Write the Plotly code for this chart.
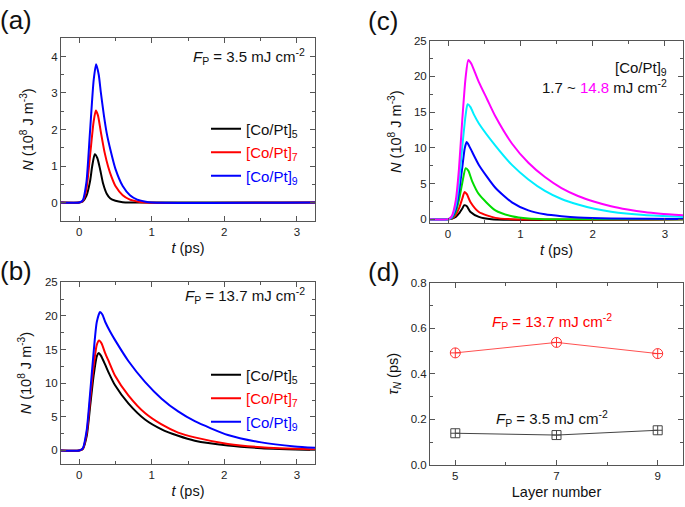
import plotly.graph_objects as go

# ---------------- data ----------------
# Panel (a): F_P = 3.5 mJ cm^-2
a_k_t = [-0.25, 0.0, 0.05, 0.1, 0.15, 0.18, 0.215, 0.25, 0.29, 0.33, 0.38, 0.43, 0.5, 0.6, 0.7, 3.25]
a_k_N = [0, 0, 0.03, 0.18, 0.58, 1.0, 1.32, 1.22, 0.9, 0.52, 0.24, 0.11, 0.05, 0.01, 0, 0]
a_r_t = [-0.25, 0.0, 0.05, 0.1, 0.15, 0.2, 0.23, 0.26, 0.3, 0.35, 0.4, 0.45, 0.5, 0.6, 0.7, 0.8, 0.9, 3.25]
a_r_N = [0, 0, 0.04, 0.36, 1.28, 2.22, 2.52, 2.38, 1.92, 1.38, 0.98, 0.68, 0.45, 0.2, 0.08, 0.03, 0, 0]
a_b_t = [-0.25, 0.0, 0.05, 0.1, 0.15, 0.2, 0.234, 0.27, 0.3, 0.34, 0.38, 0.43, 0.5, 0.6, 0.7, 0.8, 0.9, 1.0, 3.25]
a_b_N = [0, 0, 0.06, 0.55, 1.95, 3.35, 3.79, 3.5, 3.0, 2.4, 1.9, 1.45, 0.92, 0.45, 0.2, 0.08, 0.03, 0.0, 0]

# Panel (b): F_P = 13.7 mJ cm^-2
b_k_t = [-0.25, 0.0, 0.05, 0.105, 0.151, 0.197, 0.243, 0.27, 0.3, 0.357, 0.41, 0.495, 0.678, 0.907, 1.136, 1.364, 1.593, 2.05, 2.51, 3.25]
b_k_N = [0, 0, 0.2, 2.18, 6.5, 10.9, 14.0, 14.47, 14.1, 12.8, 11.5, 9.68, 7.0, 4.6, 3.14, 2.18, 1.45, 0.73, 0.34, 0.05]
b_r_t = [-0.25, 0.0, 0.05, 0.105, 0.151, 0.197, 0.243, 0.275, 0.31, 0.357, 0.41, 0.495, 0.678, 0.907, 1.136, 1.364, 1.593, 2.05, 2.51, 3.25]
b_r_N = [0, 0, 0.25, 2.66, 7.5, 12.3, 15.7, 16.35, 15.9, 14.5, 13.2, 11.1, 8.2, 5.56, 3.87, 2.66, 1.94, 0.97, 0.48, 0.15]
b_b_t = [-0.25, 0.0, 0.05, 0.105, 0.151, 0.197, 0.243, 0.288, 0.32, 0.36, 0.43, 0.495, 0.678, 0.907, 1.136, 1.364, 1.593, 2.05, 2.51, 2.97, 3.25]
b_b_N = [0, 0, 0.3, 3.1, 8.5, 14.3, 19.1, 20.6, 20.2, 19.1, 17.6, 16.4, 13.3, 10.2, 7.7, 5.8, 4.35, 2.3, 1.2, 0.6, 0.4]

# Panel (c): [Co/Pt]9, 1.7 ~ 14.8 mJ cm^-2
c_m_t = [-0.25, 0.0, 0.05, 0.106, 0.151, 0.197, 0.243, 0.28, 0.32, 0.37, 0.426, 0.54, 0.654, 0.883, 1.111, 1.34, 1.569, 1.797, 2.026, 2.255, 2.483, 2.712, 2.94, 3.25]
c_m_N = [0, 0, 0.4, 2.6, 7.1, 14.0, 19.9, 22.3, 21.8, 20.6, 19.2, 16.8, 14.4, 10.6, 7.9, 5.9, 4.35, 3.25, 2.45, 1.82, 1.36, 1.0, 0.77, 0.55]
c_c_t = [-0.25, 0.0, 0.05, 0.106, 0.151, 0.197, 0.243, 0.27, 0.31, 0.36, 0.426, 0.654, 0.883, 1.111, 1.34, 1.569, 1.797, 2.026, 2.255, 2.712, 3.25]
c_c_N = [0, 0, 0.3, 1.9, 5.2, 10.2, 14.6, 16.1, 15.7, 14.6, 13.4, 10.3, 7.6, 5.56, 3.96, 2.82, 2.05, 1.45, 1.05, 0.59, 0.32]
c_b_t = [-0.25, 0.0, 0.05, 0.106, 0.151, 0.197, 0.23, 0.257, 0.29, 0.334, 0.426, 0.654, 0.883, 1.111, 1.34, 1.569, 1.797, 2.255, 3.25]
c_b_N = [0, 0, 0.2, 1.4, 3.8, 7.3, 9.9, 10.8, 10.3, 9.4, 7.6, 4.4, 2.36, 1.23, 0.68, 0.41, 0.23, 0.09, 0.03]
c_g_t = [-0.25, 0.0, 0.05, 0.106, 0.151, 0.197, 0.243, 0.28, 0.334, 0.426, 0.654, 0.883, 1.111, 1.34, 3.25]
c_g_N = [0, 0, 0.15, 1.0, 2.7, 5.1, 7.14, 6.8, 5.3, 3.5, 1.23, 0.41, 0.09, 0.0, 0]
c_r_t = [-0.25, 0.0, 0.05, 0.106, 0.151, 0.197, 0.229, 0.26, 0.311, 0.426, 0.654, 0.883, 3.25]
c_r_N = [0, 0, 0.08, 0.6, 1.5, 2.9, 3.82, 3.5, 2.36, 1.0, 0.18, 0.0, 0]
c_k_t = [-0.25, 0.0, 0.05, 0.106, 0.151, 0.197, 0.224, 0.26, 0.311, 0.426, 0.6, 3.25]
c_k_N = [0, 0, 0.05, 0.3, 0.8, 1.5, 1.96, 1.8, 1.0, 0.32, 0.0, 0]

# Panel (d): tau_N vs layer number
layers = [5, 7, 9]
tau_high = [0.492, 0.538, 0.489]   # F_P = 13.7 mJ cm^-2
tau_low = [0.139, 0.131, 0.152]    # F_P = 3.5 mJ cm^-2

legend_names = ["[Co/Pt]<sub>5</sub>",
                "<span style='color:#ff0000'>[Co/Pt]<sub>7</sub></span>",
                "<span style='color:#0000ff'>[Co/Pt]<sub>9</sub></span>"]

FONT = "Liberation Sans, Arial, sans-serif"
W, H = 685, 507

fig = go.Figure()

def line(x, y, color, xa, ya, name=None, legend=None, showlegend=False, group=None):
    fig.add_trace(go.Scatter(x=x, y=y, mode="lines",
                             line=dict(color=color, width=2, shape="spline", smoothing=0.6),
                             xaxis=xa, yaxis=ya, name=name, legend=legend,
                             legendgroup=group,
                             showlegend=showlegend, hoverinfo="skip"))

# (a)
line(a_k_t, a_k_N, "#000000", "x", "y", legend_names[0], "legend", True, "a5")
line(a_r_t, a_r_N, "#ff0000", "x", "y", legend_names[1], "legend", True, "a7")
line(a_b_t, a_b_N, "#0000ff", "x", "y", legend_names[2], "legend", True, "a9")
# (b)
line(b_k_t, b_k_N, "#000000", "x2", "y2", legend_names[0], "legend2", True, "b5")
line(b_r_t, b_r_N, "#ff0000", "x2", "y2", legend_names[1], "legend2", True, "b7")
line(b_b_t, b_b_N, "#0000ff", "x2", "y2", legend_names[2], "legend2", True, "b9")
# (c)
line(c_k_t, c_k_N, "#000000", "x3", "y3")
line(c_r_t, c_r_N, "#ff0000", "x3", "y3")
line(c_g_t, c_g_N, "#00dd00", "x3", "y3")
line(c_b_t, c_b_N, "#0000ff", "x3", "y3")
line(c_c_t, c_c_N, "#00eeff", "x3", "y3")
line(c_m_t, c_m_N, "#ff00ff", "x3", "y3")
# (d)
fig.add_trace(go.Scatter(x=layers, y=tau_high, mode="lines+markers",
                         line=dict(color="#ff5050", width=1),
                         marker=dict(symbol="circle-cross-open", size=10,
                                     color="#ff3030", line=dict(width=1)),
                         xaxis="x4", yaxis="y4", showlegend=False))
fig.add_trace(go.Scatter(x=layers, y=tau_low, mode="lines+markers",
                         line=dict(color="#444444", width=1),
                         marker=dict(symbol="square-cross-open", size=9,
                                     color="#444444", line=dict(width=1)),
                         xaxis="x4", yaxis="y4", showlegend=False))

AX = "#555555"
def axis(dom, rng, dtick, minor, title=None, anchor=None, standoff=4, fmt=None, tick0=None):
    d = dict(domain=dom, range=rng, dtick=dtick, showline=True, linecolor=AX, linewidth=1,
             mirror="allticks", ticks="inside", ticklen=5, tickcolor=AX, tickwidth=1,
             minor=dict(dtick=minor, ticks="inside", ticklen=3, tickcolor=AX, tickwidth=1),
             showgrid=False, zeroline=False, anchor=anchor,
             tickfont=dict(family=FONT, size=11.5, color="#222222"))
    if tick0 is not None:
        d["tick0"] = tick0
        d["minor"]["tick0"] = tick0
    if fmt:
        d["tickformat"] = fmt
    if title:
        d["title"] = dict(text=title, font=dict(family=FONT, size=14.5, color="#111111"),
                          standoff=standoff)
    return d

def px(x0, x1):
    return [x0 / W, x1 / W]
def py(top, bot):
    return [1 - bot / H, 1 - top / H]

ytitle = "<i>N</i> (10<sup>8</sup> J m<sup>-3</sup>)"
ttitle = "<i>t</i> (ps)"

LEG = dict(xanchor="left", yanchor="top", bgcolor="rgba(0,0,0,0)",
           font=dict(family=FONT, size=15, color="#111111"),
           itemwidth=30, tracegroupgap=1)

fig.update_layout(
    width=W, height=H, margin=dict(l=0, r=0, t=0, b=0),
    paper_bgcolor="white", plot_bgcolor="white",
    font=dict(family=FONT, size=14, color="#111111"),
    xaxis=axis(px(61, 315), [-0.25, 3.25], 1, 0.5, ttitle, "y", 6),
    yaxis=axis(py(33, 220), [-0.5, 4.5], 1, 0.5, ytitle, "x", 14),
    xaxis2=axis(px(61, 315), [-0.25, 3.25], 1, 0.5, ttitle, "y2", 6),
    yaxis2=axis(py(283, 469), [-2, 25], 5, 2.5, ytitle, "x2", 9),
    xaxis3=axis(px(430, 683), [-0.25, 3.25], 1, 0.5, ttitle, "y3", 6),
    yaxis3=axis(py(35.5, 222), [-0.5, 25], 5, 2.5, ytitle, "x3", 8),
    xaxis4=axis(px(430, 683), [4.5, 9.5], 2, 1, "Layer number", "y4", 6, tick0=5),
    yaxis4=axis(py(283.5, 470), [0, 0.8], 0.2, 0.1, "<i>τ</i><sub><i>N</i></sub> (ps)", "x4", 8, fmt=".1f"),
    legend=dict(x=206 / W, y=1 - 109 / H, **LEG),
    legend2=dict(x=206 / W, y=1 - 361 / H, **LEG),
)

def ann(text, x, y, xanchor="center", yanchor="middle", size=15, color="#111111"):
    fig.add_annotation(text=text, x=x / W, y=1 - y / H, xref="paper", yref="paper",
                       xanchor=xanchor, yanchor=yanchor, showarrow=False,
                       font=dict(family=FONT, size=size, color=color))

# panel labels
ann("(a)", 16, 14, size=26)
ann("(b)", 16, 271, size=26)
ann("(c)", 383, 15, size=26)
ann("(d)", 384, 272, size=26)

ann("<i>F</i><sub>P</sub> = 3.5 mJ cm<sup>-2</sup>", 307, 52, xanchor="right")
ann("<i>F</i><sub>P</sub> = 13.7 mJ cm<sup>-2</sup>", 307, 297, xanchor="right")
ann("[Co/Pt]<sub>9</sub>", 669, 64, xanchor="right")
ann("1.7 ~ <span style='color:#ff00ff'>14.8</span> mJ cm<sup>-2</sup>", 669, 82, xanchor="right")
ann("<i>F</i><sub>P</sub> = 13.7 mJ cm<sup>-2</sup>", 552, 323, color="#ff0000")
ann("<i>F</i><sub>P</sub> = 3.5 mJ cm<sup>-2</sup>", 552, 422)

fig.write_html("out.html", config={"displayModeBar": False},
               post_script="document.body.style.margin='0';document.body.style.overflow='hidden';")
